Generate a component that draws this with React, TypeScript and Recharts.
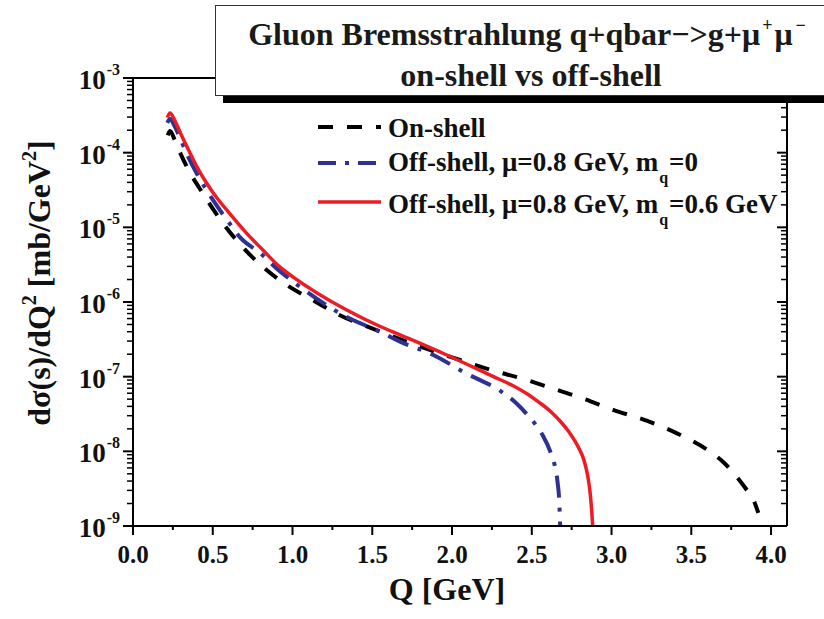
import React from 'react';
import { LineChart, Line, XAxis, YAxis } from 'recharts';

const FONT = '"Liberation Serif", "Times New Roman", Times, serif';

// Q [GeV] vs dσ/dQ² [mb/GeV²]
const onShellQ = [0.218, 0.232, 0.26, 0.3, 0.337, 0.44, 0.566, 0.734, 0.92, 1.13, 1.3, 1.506, 1.716, 1.9, 2.07, 2.26, 2.44, 2.635, 2.82, 3.01, 3.22, 3.41, 3.6, 3.7, 3.77, 3.84, 3.89, 3.92];
const onShellSigma = [1.7e-4, 1.95e-4, 1.51e-4, 9.5e-5, 6.5e-5, 2.8e-5, 1.12e-5, 4.27e-6, 1.95e-6, 1.05e-6, 6.6e-7, 4.37e-7, 2.95e-7, 2.14e-7, 1.62e-7, 1.2e-7, 9.4e-8, 6.9e-8, 5.1e-8, 3.6e-8, 2.57e-8, 1.74e-8, 1.05e-8, 7.2e-9, 5.0e-9, 3.2e-9, 2.24e-9, 1.5e-9];

const offShellQ = [0.215, 0.232, 0.26, 0.3, 0.347, 0.4, 0.503, 0.6, 0.67, 0.8, 0.9, 1.0, 1.34, 1.55, 1.674, 1.883, 2.09, 2.3, 2.405, 2.468, 2.53, 2.57, 2.614, 2.645, 2.662, 2.672, 2.678];
const offShellSigma = [2.51e-4, 2.82e-4, 2.29e-4, 1.48e-4, 8.7e-5, 5.25e-5, 2.29e-5, 1.17e-5, 7.4e-6, 4.47e-6, 2.82e-6, 1.9e-6, 6.3e-7, 3.98e-7, 2.95e-7, 1.95e-7, 1.1e-7, 6.5e-8, 4.37e-8, 3.16e-8, 2.19e-8, 1.62e-8, 1.02e-8, 6.3e-9, 3.8e-9, 2.19e-9, 1.0e-9];

const massiveQ = [0.215, 0.232, 0.26, 0.3, 0.35, 0.4, 0.5, 0.608, 0.7, 0.817, 0.92, 1.0, 1.34, 1.55, 1.674, 1.967, 2.26, 2.38, 2.47, 2.55, 2.62, 2.68, 2.73, 2.77, 2.8, 2.823, 2.84, 2.854, 2.866, 2.875, 2.882];
const massiveSigma = [2.95e-4, 3.39e-4, 2.75e-4, 1.78e-4, 1.07e-4, 6.5e-5, 2.95e-5, 1.51e-5, 8.9e-6, 4.9e-6, 2.95e-6, 2.19e-6, 7.8e-7, 4.7e-7, 3.63e-7, 1.95e-7, 1.0e-7, 7.6e-8, 5.9e-8, 4.47e-8, 3.39e-8, 2.51e-8, 1.86e-8, 1.38e-8, 1.05e-8, 8.1e-9, 6.0e-9, 4.27e-9, 2.75e-9, 1.66e-9, 1.0e-9];

const xTicks = [0, 0.25, 0.5, 0.75, 1, 1.25, 1.5, 1.75, 2, 2.25, 2.5, 2.75, 3, 3.25, 3.5, 3.75, 4];
const decades = [-9, -8, -7, -6, -5, -4, -3];
const mantissas = [1, 2, 3, 4, 5, 6, 7, 8, 9];

const yTicks = decades.flatMap((e) => (e === -3 ? [1e-3] : mantissas.map((m) => m * Math.pow(10, e))));

const toPoints = (q: number[], s: number[]) => q.map((v, i) => ({ q: v, s: s[i] }));
const onShell = toPoints(onShellQ, onShellSigma);
const offShell = toPoints(offShellQ, offShellSigma);
const massive = toPoints(massiveQ, massiveSigma);

const BLACK = '#000000';
const BLUE = '#2e3192';
const RED = '#ed1c24';

const isDecade = (v: number) => Math.abs(Math.log10(v) - Math.round(Math.log10(v))) < 1e-6;
const isHalf = (v: number) => Math.abs(v * 2 - Math.round(v * 2)) < 1e-6;

// left axis: ticks point outward, decades get a 10^n label
function LeftTick({ x, y, payload }: any) {
  const v = payload.value;
  if (!isDecade(v)) {
    return <line x1={x - 6} x2={x} y1={y} y2={y} stroke="#000" strokeWidth={1.5} />;
  }
  const exp = Math.round(Math.log10(v));
  return (
    <g>
      <line x1={x - 10} x2={x} y1={y} y2={y} stroke="#000" strokeWidth={2} />
      <text x={x - 13} y={y + 11} textAnchor="end" fontFamily={FONT} fontWeight="bold" fontSize={27} fill="#111">
        10
        <tspan dx={1} dy={-14} fontSize={16}>{exp}</tspan>
      </text>
    </g>
  );
}

// right axis: ticks point inward
function RightTick({ x, y, payload }: any) {
  const major = isDecade(payload.value);
  const len = major ? 10 : 6;
  return <line x1={x - len} x2={x} y1={y} y2={y} stroke="#000" strokeWidth={major ? 2 : 1.5} />;
}

function BottomTick({ x, y, payload }: any) {
  const v = payload.value;
  if (!isHalf(v)) {
    return <line x1={x} x2={x} y1={y} y2={y + 4} stroke="#000" strokeWidth={2} />;
  }
  return (
    <g>
      <line x1={x} x2={x} y1={y} y2={y + 9} stroke="#000" strokeWidth={2} />
      <text x={x} y={y + 37} textAnchor="middle" fontFamily={FONT} fontWeight="bold" fontSize={25} fill="#111">
        {v.toFixed(1)}
      </text>
    </g>
  );
}

function TopTick({ x, y, payload }: any) {
  const len = isHalf(payload.value) ? 6 : 4;
  return <line x1={x} x2={x} y1={y} y2={y + len} stroke="#000" strokeWidth={2} />;
}

const legendRows = [
  { color: BLACK, dash: '15 14', width: 4, y: 17 },
  { color: BLUE, dash: '18 9 4 9', width: 4, y: 53 },
  { color: RED, dash: undefined, width: 3.5, y: 92 },
];

export default function App() {
  return (
    <div style={{ position: 'absolute', left: 0, top: 0, width: 824, height: 619, overflow: 'hidden', background: '#fff' }}>
      <LineChart width={824} height={619} margin={{ top: 77, right: 36, bottom: 53, left: 53 }}>
        <XAxis
          xAxisId="b"
          dataKey="q"
          type="number"
          domain={[0, 4.1]}
          ticks={xTicks}
          interval={0}
          height={40}
          tickSize={0}
          tickMargin={0}
          tick={<BottomTick />}
          tickLine={false}
          axisLine={{ stroke: '#000', strokeWidth: 2 }}
        />
        <XAxis
          xAxisId="t"
          orientation="top"
          type="number"
          domain={[0, 4.1]}
          ticks={xTicks}
          interval={0}
          height={1}
          tickSize={0}
          tickMargin={0}
          tick={<TopTick />}
          tickLine={false}
          axisLine={{ stroke: '#000', strokeWidth: 2 }}
        />
        <YAxis
          yAxisId="l"
          scale="log"
          type="number"
          domain={[1e-9, 1e-3]}
          allowDataOverflow
          ticks={yTicks}
          interval={0}
          width={80}
          tickSize={0}
          tickMargin={0}
          tick={<LeftTick />}
          tickLine={false}
          axisLine={{ stroke: '#000', strokeWidth: 2 }}
        />
        <YAxis
          yAxisId="r"
          orientation="right"
          scale="log"
          type="number"
          domain={[1e-9, 1e-3]}
          allowDataOverflow
          ticks={yTicks}
          interval={0}
          width={1}
          tickSize={0}
          tickMargin={0}
          tick={<RightTick />}
          tickLine={false}
          axisLine={{ stroke: '#000', strokeWidth: 2 }}
        />
        <Line
          xAxisId="b"
          yAxisId="l"
          data={onShell}
          dataKey="s"
          type="monotone"
          stroke={BLACK}
          strokeWidth={4}
          strokeDasharray="15 14"
          dot={false}
          isAnimationActive={false}
        />
        <Line
          xAxisId="b"
          yAxisId="l"
          data={offShell}
          dataKey="s"
          type="monotone"
          stroke={BLUE}
          strokeWidth={4}
          strokeDasharray="22 10 4 10"
          dot={false}
          isAnimationActive={false}
        />
        <Line
          xAxisId="b"
          yAxisId="l"
          data={massive}
          dataKey="s"
          type="monotone"
          stroke={RED}
          strokeWidth={3.5}
          dot={false}
          isAnimationActive={false}
        />
      </LineChart>

      {/* axis titles and legend */}
      <svg width={824} height={619} style={{ position: 'absolute', left: 0, top: 0, pointerEvents: 'none' }}>
        <text
          transform="translate(50,283) rotate(-90)"
          textAnchor="middle"
          fontFamily={FONT}
          fontWeight="bold"
          fontSize={32}
          fill="#111"
        >
          dσ(s)/dQ<tspan dy={-14} fontSize={20}>2</tspan>
          <tspan dy={14}> [mb/GeV</tspan>
          <tspan dy={-14} fontSize={20}>2</tspan>
          <tspan dy={14}>]</tspan>
        </text>
        <text x={447} y={600} textAnchor="middle" fontFamily={FONT} fontWeight="bold" fontSize={32} fill="#111">
          Q [GeV]
        </text>

        <g transform="translate(318,110)">
          {legendRows.map((r, i) => (
            <line key={i} x1={0} x2={63} y1={r.y} y2={r.y} stroke={r.color} strokeWidth={r.width} strokeDasharray={r.dash} />
          ))}
          <g fontFamily={FONT} fontWeight="bold" fontSize={27} fill="#111">
            <text x={70} y={27}>On-shell</text>
            <text x={70} y={61}>
              Off-shell, μ=0.8 GeV, m<tspan dx={1} dy={12} fontSize={16}>q</tspan>
              <tspan dx={1} dy={-12}>=0</tspan>
            </text>
            <text x={70} y={103}>
              Off-shell, μ=0.8 GeV, m<tspan dx={1} dy={12} fontSize={16}>q</tspan>
              <tspan dx={1} dy={-12}>=0.6 GeV</tspan>
            </text>
          </g>
        </g>
      </svg>

      {/* title box with drop shadow */}
      <div
        style={{
          position: 'absolute',
          left: 215,
          top: 5,
          width: 625,
          height: 89,
          background: '#fff',
          border: '1px solid #333',
          boxShadow: '8px 7px 0 #000',
        }}
      >
        <svg width={625} height={89} style={{ display: 'block' }}>
          <g fontFamily={FONT} fontWeight="bold" fontSize={32} fill="#1a1a1a" textAnchor="middle">
            <text x={311} y={39}>
              Gluon Bremsstrahlung q+qbar{'\u2212'}&gt;g+μ<tspan dx={2} dy={-14} fontSize={18}>+</tspan>
              <tspan dx={2} dy={14}>μ</tspan>
              <tspan dx={3} dy={-14} fontSize={18}>{'\u2212'}</tspan>
            </text>
            <text x={315} y={80}>on-shell vs off-shell</text>
          </g>
        </svg>
      </div>
    </div>
  );
}
